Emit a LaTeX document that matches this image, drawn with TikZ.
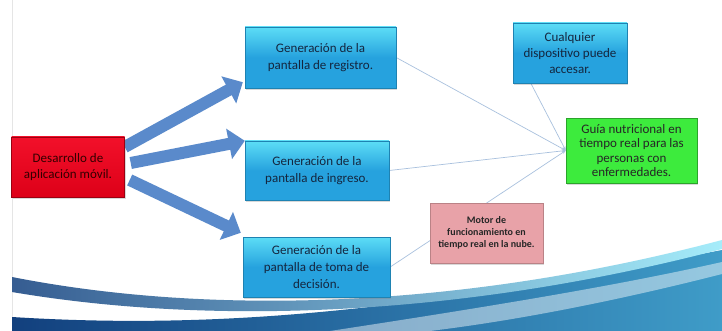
\documentclass[tikz,border=0pt]{standalone}
\usepackage{fontspec}
\setmainfont{Carlito}
\usepackage{xcolor}
\definecolor{bloque}{HTML}{5A8ACB}
\definecolor{celesteA}{HTML}{5CDDF6}
\definecolor{celesteB}{HTML}{26A2DE}
\definecolor{rojoA}{HTML}{F2102A}
\definecolor{rojoB}{HTML}{DD0018}
\definecolor{verde}{HTML}{3DEB3D}
\definecolor{rosa}{HTML}{E8A2A8}
\definecolor{linea}{HTML}{A9C1DE}
\definecolor{marino}{HTML}{12407E}
\definecolor{turquesa}{HTML}{3F9CC8}
\definecolor{textoazul}{HTML}{14263F}
\usepackage{tikz}
\usetikzlibrary{arrows.meta, shadows, positioning, calc}
\pgfdeclarelayer{fondo}
\pgfdeclarelayer{lineas}
\pgfsetlayers{fondo,lineas,main}

\begin{document}
\begin{tikzpicture}[x=1pt, y=-1pt, >=Stealth,
  caja/.style={inner sep=2pt, align=center, font=\fontsize{13}{17}\selectfont,
        drop shadow={shadow xshift=1pt, shadow yshift=-2pt, opacity=0.3}},
  pantalla/.style={caja, draw=celesteB!80!black, top color=celesteA,
        bottom color=celesteB, middle color=celesteB, text=textoazul},
  flecha/.style={line width=12pt, bloque, -{Triangle[length=16pt, width=30pt]}},
  enlace/.style={linea, line width=0.7pt, -{Stealth[length=4pt, width=3pt]}}]

  \useasboundingbox (0,0) rectangle (722,331);

  % fondo de la diapositiva
  \begin{pgfonlayer}{fondo}
    \fill[white] (0,0) rectangle (722,331);
    \draw[gray!20] (12,0) -- (12,331);
    \begin{scope}
      \clip (12,0) rectangle (722,331);
      \shade[left color=marino, right color=turquesa]
        (12,331) -- (12,317) .. controls (250,332) and (450,302) .. (722,250)
        -- (722,331) -- cycle;
      \fill[white, opacity=0.45]
        (330,331) .. controls (500,305) and (620,285) .. (722,262)
        -- (722,274) .. controls (620,300) and (520,320) .. (430,331) -- cycle;
      \shade[left color=marino!85!white, right color=celesteA!55!white]
        (12,277) .. controls (200,314) and (450,312) .. (722,240)
        -- (722,249) .. controls (450,320) and (200,324) .. (12,292) -- cycle;
    \end{scope}
  \end{pgfonlayer}

  \node[caja, draw=rojoB!70!black, top color=rojoA, bottom color=rojoB,
        minimum width=113pt, minimum height=60pt, text=black!80!red,
        font=\fontsize{13}{16}\selectfont] (dev)
        at (68,167) {Desarrollo de\\aplicación móvil.};

  \node[pantalla, minimum width=151pt, minimum height=61pt] (reg)
        at (320.5,57.5) {Generación de la\\pantalla de registro.};
  \node[pantalla, minimum width=144pt, minimum height=59pt] (ing)
        at (317,170.5) {Generación de la\\pantalla de ingreso.};
  \node[pantalla, minimum width=147pt, minimum height=60pt] (dec)
        at (316.5,267) {Generación de la\\pantalla de toma de\\decisión.};

  \node[caja, draw=rosa!80!black, fill=rosa, minimum width=113pt,
        minimum height=60pt, font=\fontsize{10}{12}\selectfont\bfseries,
        text=black!85] (motor)
        at (486.5,233) {Motor de\\funcionamiento en\\tiempo real en la nube.};

  \node[pantalla, minimum width=114pt, minimum height=60pt,
        font=\fontsize{13}{16}\selectfont] (disp)
        at (570,53) {Cualquier\\dispositivo puede\\accesar.};

  \node[caja, draw=verde!70!black, fill=verde, minimum width=131pt,
        minimum height=65pt, font=\fontsize{13}{14.5}\selectfont,
        text=black!85] (guia)
        at (631.5,150.5) {Guía nutricional en\\tiempo real para las\\personas con\\enfermedades.};

  \begin{pgfonlayer}{lineas}
    % flechas gruesas desde la aplicacion
    \draw[flecha] ([yshift=20pt]dev.east) -- ([yshift=6pt, xshift=-2pt]reg.south west);
    \draw[flecha] ([yshift=4pt, xshift=6pt]dev.east) -- (ing.north west);
    \draw[flecha] ([yshift=-13pt, xshift=5pt]dev.east) -- ([yshift=4pt, xshift=-2pt]dec.north west);

    % enlaces hacia la guia
    \draw[enlace] (reg.east) -- (guia.west);
    \draw[enlace] (ing.east) -- (guia.west);
    \draw[enlace] (dec.east) -- (guia.west);
    \draw[enlace] ([xshift=18pt]disp.south west) -- (guia.west);
  \end{pgfonlayer}

\end{tikzpicture}
\end{document}
